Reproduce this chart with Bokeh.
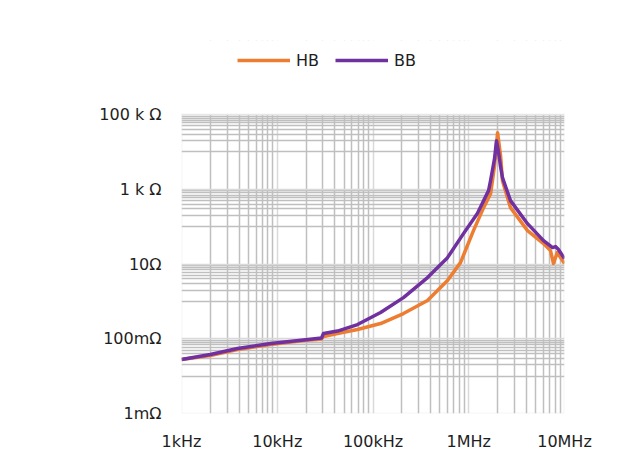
from bokeh.plotting import figure
from bokeh.models import FixedTicker, Legend, LegendItem, BoxAnnotation
from bokeh.embed import file_html
from bokeh.resources import INLINE

# ---- data ----
freq_hb = [1000, 2000, 3850, 8510, 18800, 29000, 30400, 42600, 68900, 120000,
           208000, 371000, 600000, 820000, 1120000, 1430000, 1690000, 1860000,
           2000000, 2150000, 2250000, 2730000, 4110000, 6040000, 7140000,
           7670000, 8400000, 10000000]
z_hb = [0.0278, 0.0356, 0.0514, 0.0700, 0.0895, 0.0982, 0.1146, 0.1377, 0.1762,
        0.255, 0.472, 1.05, 3.60, 10.9, 78.2, 322, 762, 4280, 32600, 7910, 1700,
        322, 78.2, 35.1, 22.8, 10.3, 20.2, 10.3]

freq_bb = [1000, 2000, 3850, 8510, 18800, 29000, 30400, 42600, 68900, 120000,
           208000, 371000, 600000, 881000, 1230000, 1610000, 1690000, 1860000,
           1950000, 2050000, 2150000, 2250000, 2730000, 4110000, 6040000,
           7500000, 8050000, 8650000, 10000000]
z_bb = [0.0278, 0.0379, 0.0547, 0.0745, 0.0922, 0.1045, 0.1377, 0.1607, 0.240,
        0.502, 1.26, 4.33, 14.8, 65.0, 223, 918, 1700, 6580, 19900, 9530, 4020,
        2040, 496, 120, 42.3, 27.5, 29.2, 24.3, 13.9]

series_names = ["HB", "BB"]
series_colors = ["#ED7D31", "#7030A0"]

x_ticks = [1e3, 1e4, 1e5, 1e6, 1e7]
x_labels = ["1kHz", "10kHz", "100kHz", "1MHz", "10MHz"]
y_ticks = [1e-3, 1e-1, 1e1, 1e3, 1e5]
y_labels = ["1mΩ", "100mΩ", "10Ω", "1 k Ω", "100 k Ω"]

x_minor = [k * 10.0 ** n for n in range(3, 7) for k in range(2, 10)]
y_minor = [k * 10.0 ** m for m in (-2, 0, 2, 4) for k in range(1, 10)]

FONT = "DejaVu Sans"
TEXT_COLOR = "#1e1e1e"
MAJOR_GRID = "#d9d9d9"
MINOR_GRID = "#bfbfbf"

# plot area: 1e-3 .. 1e5 spans 299 px; the frame is extended upward by 74 px
# so that the legend can sit inside it (that strip is blanked out below).
PX_PER_DECADE = 299 / 8.0
Y_TOP = 10 ** (5 + 74 / PX_PER_DECADE)

p = figure(width=617, height=454, x_axis_type="log", y_axis_type="log",
           x_range=(1e3, 1e7), y_range=(1e-3, Y_TOP),
           output_backend="svg", toolbar_location=None,
           min_border_left=181, min_border_right=53,
           min_border_top=40, min_border_bottom=41)
p.background_fill_color = "white"
p.border_fill_color = "white"
p.outline_line_color = None

p.xaxis.ticker = FixedTicker(ticks=x_ticks, minor_ticks=x_minor)
p.yaxis.ticker = FixedTicker(ticks=y_ticks, minor_ticks=y_minor)
p.xaxis.major_label_overrides = {t: l for t, l in zip(x_ticks, x_labels)}
p.yaxis.major_label_overrides = {t: l for t, l in zip(y_ticks, y_labels)}

for ax in (p.xaxis, p.yaxis):
    ax.axis_line_color = None
    ax.major_tick_line_color = None
    ax.minor_tick_line_color = None
    ax.major_tick_out = 0
    ax.major_tick_in = 0
    ax.minor_tick_out = 0
    ax.minor_tick_in = 0
    ax.major_label_text_font = FONT
    ax.major_label_text_font_size = "16px"
    ax.major_label_text_color = TEXT_COLOR
p.xaxis.major_label_standoff = 18
p.yaxis.major_label_standoff = 20

for g in (p.xgrid, p.ygrid):
    g.grid_line_color = MAJOR_GRID
    g.grid_line_width = 1.5
    g.minor_grid_line_color = MINOR_GRID
    g.minor_grid_line_width = 1.5

r_hb = p.line(freq_hb, z_hb, line_color=series_colors[0], line_width=3.5,
              line_join="round")
r_bb = p.line(freq_bb, z_bb, line_color=series_colors[1], line_width=3.5,
              line_join="round")

# blank strip above the 100 kΩ line (where the legend lives)
p.add_layout(BoxAnnotation(bottom=y_ticks[-1], fill_color="white", fill_alpha=1,
                           line_alpha=0))
# edge of the plot area
p.add_layout(BoxAnnotation(top=y_ticks[-1], fill_alpha=0, line_color=MAJOR_GRID,
                           line_width=2))

legend = Legend(items=[LegendItem(label=series_names[0], renderers=[r_hb]),
                       LegendItem(label=series_names[1], renderers=[r_bb])],
                orientation="horizontal", location=(56, 343),
                glyph_width=53, glyph_height=20, label_standoff=6, spacing=16,
                padding=0, margin=0, border_line_color=None,
                background_fill_alpha=0,
                label_text_font=FONT, label_text_font_size="16px",
                label_text_color=TEXT_COLOR)
p.add_layout(legend)

open("out.html", "w").write(file_html(p, INLINE))
